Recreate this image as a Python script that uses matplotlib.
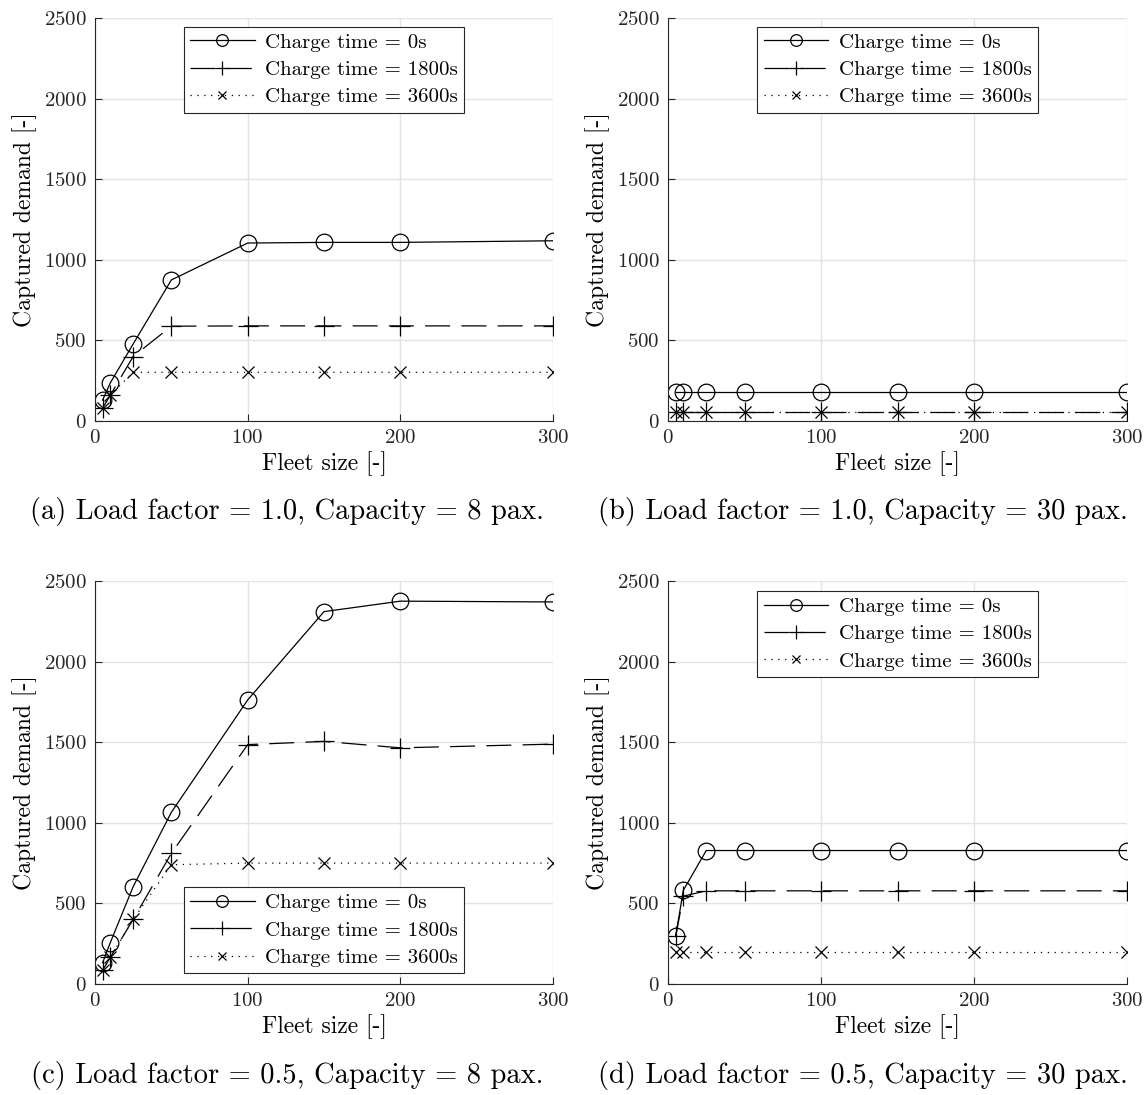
import matplotlib
matplotlib.use("Agg")
import matplotlib.pyplot as plt

plt.rcParams['font.family'] = 'serif'
plt.rcParams['font.serif'] = ['cmr10']
plt.rcParams['mathtext.fontset'] = 'cm'
plt.rcParams['axes.formatter.use_mathtext'] = True

fleet = [5, 10, 25, 50, 100, 150, 200, 300]

# (a) load factor 1.0, capacity 8
a_0 = [130, 236, 478, 875, 1104, 1108, 1108, 1118]
a_1800 = [80, 160, 400, 588, 590, 590, 590, 590]
a_3600 = [80, 160, 302, 302, 302, 302, 302, 302]
# (b) load factor 1.0, capacity 30
b_0 = [178, 178, 178, 178, 178, 178, 178, 178]
b_1800 = [58, 58, 58, 58, 58, 58, 58, 58]
b_3600 = [58, 58, 58, 58, 58, 58, 58, 58]
# (c) load factor 0.5, capacity 8
c_0 = [132, 256, 604, 1065, 1762, 2310, 2375, 2370]
c_1800 = [85, 165, 401, 810, 1485, 1505, 1465, 1488]
c_3600 = [85, 165, 401, 740, 750, 750, 750, 750]
# (d) load factor 0.5, capacity 30
d_0 = [295, 581, 828, 828, 828, 828, 828, 828]
d_1800 = [295, 545, 578, 578, 578, 578, 578, 578]
d_3600 = [198, 198, 198, 198, 198, 198, 198, 198]

labels = ['Charge time = 0s', 'Charge time = 1800s', 'Charge time = 3600s']
captions = ['(a) Load factor = 1.0, Capacity = 8 pax.',
            '(b) Load factor = 1.0, Capacity = 30 pax.',
            '(c) Load factor = 0.5, Capacity = 8 pax.',
            '(d) Load factor = 0.5, Capacity = 30 pax.']
panels = [(a_0, a_1800, a_3600), (b_0, b_1800, b_3600),
          (c_0, c_1800, c_3600), (d_0, d_1800, d_3600)]

W, H = 1146, 1095
fig = plt.figure(figsize=(W / 100, H / 100), dpi=100)
# pixel boxes: left, top, right, bottom
boxes = [(95, 18, 553, 421), (668, 18, 1127, 421),
         (95, 581, 553, 984), (668, 581, 1127, 984)]
leg_anchor = [('upper center', (0.5, 0.978)), ('upper center', (0.5, 0.978)),
              ('lower center', (0.5, 0.027)), ('upper center', (0.5, 0.975))]
cap_pos = [(287, 512), (863, 512), (287, 1076), (863, 1076)]

for i, data in enumerate(panels):
    l, t, r, b = boxes[i]
    ax = fig.add_axes([l / W, 1 - b / H, (r - l) / W, (b - t) / H])
    y0, y1, y2 = data
    ax.plot(fleet, y0, '-', color='k', lw=0.9, marker='o', ms=12, mfc='none', mew=0.9, label=labels[0])
    ax.plot(fleet, y1, color='k', lw=0.9, dashes=(20, 9), marker='+', ms=14, mew=0.9, label=labels[1])
    ax.plot(fleet, y2, color='k', lw=0.9, dashes=(1, 4.5), marker='x', ms=9, mew=0.9, label=labels[2])
    ax.set_xlim(0, 300)
    ax.set_ylim(0, 2500)
    ax.set_xticks([0, 100, 200, 300])
    ax.set_yticks([0, 500, 1000, 1500, 2000, 2500])
    ax.grid(True, color='#e3e3e3', lw=1)
    ax.set_axisbelow(True)
    for s in ['top', 'right']:
        ax.spines[s].set_visible(False)
    for s in ['left', 'bottom']:
        ax.spines[s].set_color('#262626')
    ax.tick_params(direction='in', labelsize=15, length=5, pad=6, colors='#262626', labelcolor='#262626')
    ax.set_xlabel('Fleet size [-]', fontsize=17, labelpad=3)
    ax.set_ylabel('Captured demand [-]', fontsize=17, labelpad=5)
    loc, anchor = leg_anchor[i]
    leg = ax.legend(loc=loc, bbox_to_anchor=anchor, fontsize=15, handlelength=3.1,
                    markerscale=0.7, fancybox=False, edgecolor='#262626', framealpha=1,
                    borderpad=0.3, labelspacing=0.42, handletextpad=0.5, borderaxespad=0)
    leg.get_frame().set_linewidth(0.8)
    cx, cy = cap_pos[i]
    fig.text(cx / W, 1 - cy / H, captions[i], ha='center', va='center', fontsize=20.5)

fig.savefig('out.png', dpi=100)
